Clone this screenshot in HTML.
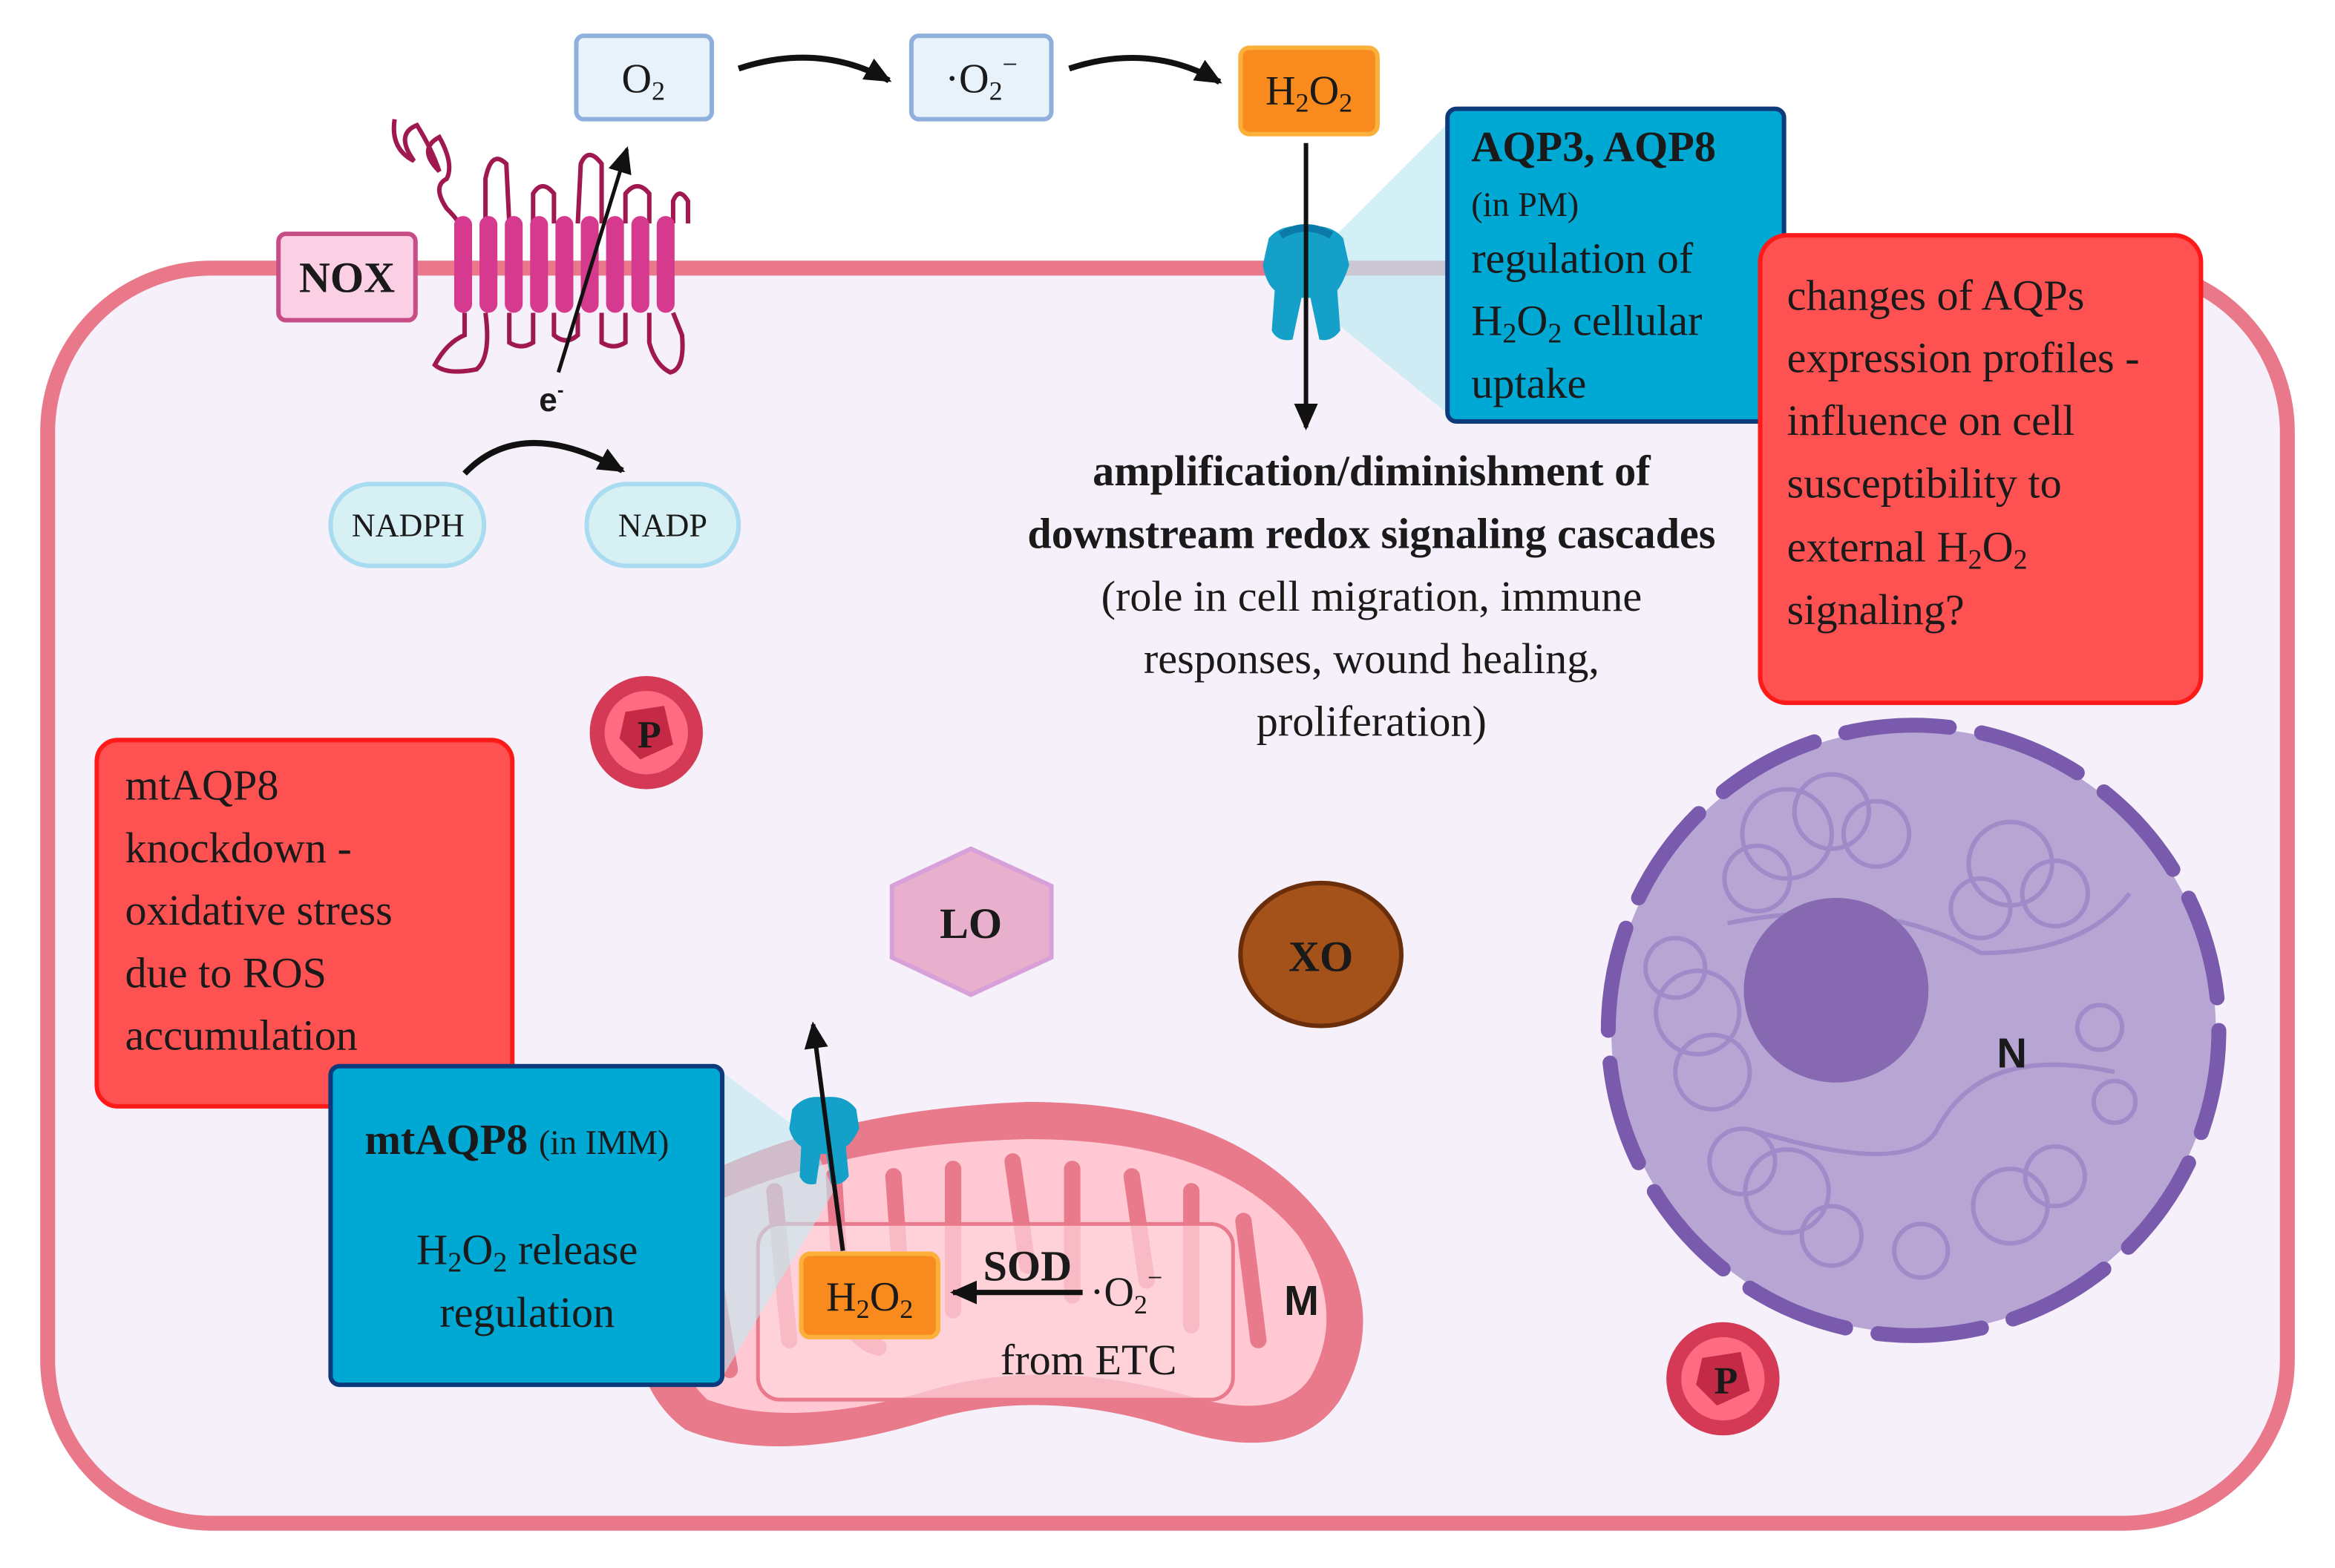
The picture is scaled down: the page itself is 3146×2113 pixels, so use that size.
<!DOCTYPE html>
<html><head><meta charset="utf-8"><style>
html,body{margin:0;padding:0;background:#fff}
svg{display:block}
text{font-family:"Liberation Serif",serif;fill:#1a1a1a}
.s{font-family:"Liberation Sans",sans-serif;font-weight:bold}
</style></head><body>
<svg width="3146" height="2113" viewBox="0 0 1568 1053" xmlns="http://www.w3.org/2000/svg">
<defs>
<marker id="ah" markerWidth="10" markerHeight="10" refX="8" refY="5" orient="auto" markerUnits="userSpaceOnUse" viewBox="0 0 10 10"><path d="M0,0 L10,5 L0,10 z" fill="#111"/></marker>
<marker id="ah2" markerWidth="18" markerHeight="18" refX="16" refY="9" orient="auto" markerUnits="userSpaceOnUse" viewBox="0 0 18 18"><path d="M0,1 L18,9 L0,17 z" fill="#111"/></marker>
</defs>
<rect width="1568" height="1053" fill="#fff"/>
<!-- cell -->
<rect x="32" y="180" width="1504" height="843" rx="110" fill="#f5f0f9" stroke="#e8788a" stroke-width="10"/>

<!-- top boxes -->
<rect x="387" y="24" width="91" height="56" rx="5" fill="#e8f2fb" stroke="#8fb0dc" stroke-width="3"/>
<text x="432" y="62" font-size="28" text-anchor="middle">O<tspan font-size="18" dy="5">2</tspan></text>
<rect x="612" y="24" width="94" height="56" rx="5" fill="#e8f2fb" stroke="#8fb0dc" stroke-width="3"/>
<text x="659" y="62" font-size="28" text-anchor="middle">·O<tspan font-size="18" dy="5">2</tspan><tspan font-size="18" dy="-18">−</tspan></text>
<rect x="833" y="32" width="92" height="58" rx="6" fill="#f98b1e" stroke="#fbb03b" stroke-width="3"/>
<text x="879" y="70" font-size="28" text-anchor="middle">H<tspan font-size="18" dy="5">2</tspan><tspan dy="-5">O</tspan><tspan font-size="18" dy="5">2</tspan></text>
<path d="M496,46 Q550,28 597,54" fill="none" stroke="#111" stroke-width="4" marker-end="url(#ah2)"/>
<path d="M718,46 Q772,28 819,55" fill="none" stroke="#111" stroke-width="4" marker-end="url(#ah2)"/>

<!-- AQP3 callout -->
<polygon points="895,160 975,80 975,280 895,215" fill="#bfeaf2" opacity="0.7"/>
<rect x="972" y="73" width="226" height="210" rx="6" fill="#00a8d4" stroke="#0d3a7a" stroke-width="3"/>
<text x="988" y="108" font-size="29" font-weight="bold">AQP3, AQP8</text>
<text x="988" y="145" font-size="23">(in PM)</text>
<text x="988" y="183" font-size="29">regulation of</text>
<text x="988" y="225" font-size="29">H<tspan font-size="19" dy="5">2</tspan><tspan dy="-5">O</tspan><tspan font-size="19" dy="5">2</tspan><tspan dy="-5"> cellular</tspan></text>
<text x="988" y="267" font-size="29">uptake</text>

<!-- channel PM -->
<path d="M852,160 Q860,150 877,152 Q894,150 902,160 L906,178 Q902,190 898,195 L900,222 Q894,230 886,228 L880,200 L874,200 L868,228 Q858,230 854,222 L856,195 Q850,190 848,178 Z" fill="#14a0c8"/>
<path d="M860,158 Q877,148 894,158" fill="none" stroke="#0b7aa8" stroke-width="5"/>
<line x1="877" y1="96" x2="877" y2="287" stroke="#111" stroke-width="3" marker-end="url(#ah2)"/>

<!-- right red box -->
<rect x="1182" y="158" width="296" height="314" rx="18" fill="#fe5252" stroke="#ff1a1a" stroke-width="3"/>
<text font-size="29" x="1200"><tspan x="1200" y="208">changes of AQPs</tspan><tspan x="1200" y="250">expression profiles -</tspan><tspan x="1200" y="292">influence on cell</tspan><tspan x="1200" y="334">susceptibility to</tspan><tspan x="1200" y="377">external H<tspan font-size="19" dy="5">2</tspan><tspan dy="-5">O</tspan><tspan font-size="19" dy="5">2</tspan></tspan><tspan x="1200" y="419">signaling?</tspan></text>

<!-- center text -->
<text x="921" y="326" font-size="29" font-weight="bold" text-anchor="middle">amplification/diminishment of</text>
<text x="921" y="368" font-size="29" font-weight="bold" text-anchor="middle">downstream redox signaling cascades</text>
<text x="921" y="410" font-size="29" text-anchor="middle">(role in cell migration, immune</text>
<text x="921" y="452" font-size="29" text-anchor="middle">responses, wound healing,</text>
<text x="921" y="494" font-size="29" text-anchor="middle">proliferation)</text>

<!-- NOX -->
<path d="M265,80 Q262,100 278,108 Q265,90 280,84 Q290,100 295,115 Q280,100 295,92 Q305,110 300,120 Q290,125 300,140 Q310,150 310,155" fill="none" stroke="#a01850" stroke-width="3"/>
<g fill="none" stroke="#a01850" stroke-width="3">
<path d="M312,210 L312,225 Q300,230 292,245 Q300,252 320,248 Q330,240 326,210"/>
<path d="M326,150 L326,120 Q330,100 340,110 L342,150"/>
<path d="M342,210 L342,230 Q350,235 358,230 L358,210"/>
<path d="M358,150 L358,130 Q364,120 372,130 L372,150"/>
<path d="M372,210 L372,225 Q380,232 388,225 L388,210"/>
<path d="M388,150 L390,110 Q395,98 404,110 L404,150"/>
<path d="M404,210 L404,230 Q412,235 420,230 L420,210"/>
<path d="M420,150 L420,130 Q428,120 436,130 L436,150"/>
<path d="M436,210 L436,230 Q440,245 450,250 Q460,248 458,225 L452,210"/>
<path d="M452,150 L452,135 Q456,125 462,135 L462,150"/>
</g>
<g fill="#d63a8f">
<rect x="305" y="145" width="12" height="65" rx="6"/><rect x="322" y="145" width="12" height="65" rx="6"/><rect x="339" y="145" width="12" height="65" rx="6"/><rect x="356" y="145" width="12" height="65" rx="6"/><rect x="373" y="145" width="12" height="65" rx="6"/><rect x="390" y="145" width="12" height="65" rx="6"/><rect x="407" y="145" width="12" height="65" rx="6"/><rect x="424" y="145" width="12" height="65" rx="6"/><rect x="441" y="145" width="12" height="65" rx="6"/>
</g>
<rect x="187" y="157" width="92" height="58" rx="5" fill="#fcd0e4" stroke="#c64d86" stroke-width="3"/>
<text x="233" y="196" font-size="29" font-weight="bold" text-anchor="middle">NOX</text>
<line x1="375" y1="250" x2="421" y2="100" stroke="#111" stroke-width="2.5" marker-end="url(#ah2)"/>
<text x="362" y="276" font-size="22" class="s">e<tspan font-size="13" dy="-10">-</tspan></text>

<!-- NADPH -->
<path d="M312,318 Q350,278 418,316" fill="none" stroke="#111" stroke-width="4" marker-end="url(#ah2)"/>
<rect x="222" y="325" width="103" height="55" rx="27" fill="#d6f0f3" stroke="#a9dcf0" stroke-width="3"/>
<text x="274" y="360" font-size="22" text-anchor="middle">NADPH</text>
<rect x="394" y="325" width="102" height="55" rx="27" fill="#d6f0f3" stroke="#a9dcf0" stroke-width="3"/>
<text x="445" y="360" font-size="22" text-anchor="middle">NADP</text>

<!-- P circles -->
<g>
<circle cx="434" cy="492" r="38" fill="#d43a55"/><circle cx="434" cy="492" r="28" fill="#ff6b80"/>
<polygon points="420,478 446,474 452,500 430,510 416,496" fill="#c42a45"/>
<text x="436" y="502" font-size="26" font-weight="bold" text-anchor="middle">P</text>
<circle cx="1157" cy="926" r="38" fill="#d43a55"/><circle cx="1157" cy="926" r="28" fill="#ff6b80"/>
<polygon points="1143,912 1169,908 1175,934 1153,944 1139,930" fill="#c42a45"/>
<text x="1159" y="936" font-size="26" font-weight="bold" text-anchor="middle">P</text>
</g>

<!-- LO, XO -->
<polygon points="652,570 706,595 706,643 652,668 599,643 599,595" fill="#e8b0cc" stroke="#d8a0d8" stroke-width="3"/>
<text x="652" y="630" font-size="29" font-weight="bold" text-anchor="middle">LO</text>
<ellipse cx="887" cy="641" rx="54" ry="48" fill="#a5521a" stroke="#6a2e0a" stroke-width="3"/>
<text x="887" y="652" font-size="29" font-weight="bold" text-anchor="middle">XO</text>

<!-- nucleus -->
<circle cx="1285" cy="692" r="203" fill="#b7a5d4"/>
<g fill="none" stroke="#a088c8" stroke-width="3" opacity="0.9">
<circle cx="1200" cy="560" r="30"/><circle cx="1230" cy="545" r="25"/><circle cx="1260" cy="560" r="22"/><circle cx="1180" cy="590" r="22"/>
<circle cx="1140" cy="680" r="28"/><circle cx="1150" cy="720" r="25"/><circle cx="1125" cy="650" r="20"/>
<circle cx="1200" cy="800" r="28"/><circle cx="1170" cy="780" r="22"/><circle cx="1230" cy="830" r="20"/>
<circle cx="1350" cy="580" r="28"/><circle cx="1380" cy="600" r="22"/><circle cx="1330" cy="610" r="20"/>
<circle cx="1350" cy="810" r="25"/><circle cx="1380" cy="790" r="20"/><circle cx="1290" cy="840" r="18"/>
<circle cx="1410" cy="690" r="15"/><circle cx="1420" cy="740" r="14"/>
<path d="M1160,620 Q1260,600 1330,640 Q1400,640 1430,600 M1180,760 Q1280,790 1300,760 Q1330,700 1420,720"/>
</g>
<circle cx="1233" cy="665" r="62" fill="#8669b0"/>
<circle cx="1285" cy="692" r="205" fill="none" stroke="#7a5aac" stroke-width="10" stroke-dasharray="70,22" stroke-linecap="round"/>
<text x="1351" y="717" font-size="28" class="s" text-anchor="middle">N</text>

<!-- left red box -->
<rect x="65" y="497" width="279" height="246" rx="14" fill="#fe5252" stroke="#ff1a1a" stroke-width="3"/>
<text font-size="29"><tspan x="84" y="537">mtAQP8</tspan><tspan x="84" y="579">knockdown -</tspan><tspan x="84" y="621">oxidative stress</tspan><tspan x="84" y="663">due to ROS</tspan><tspan x="84" y="705">accumulation</tspan></text>

<!-- mitochondrion -->
<path d="M470,790 Q560,745 690,740 Q830,740 890,820 Q935,880 900,940 Q870,985 790,960 Q700,930 620,955 Q520,985 460,960 Q420,930 430,870 Q440,820 470,790 Z" fill="#e87a8c"/>
<path d="M485,805 Q570,768 690,765 Q820,765 872,830 Q905,880 880,925 Q860,955 800,938 Q700,910 620,935 Q530,960 475,940 Q448,915 455,870 Q462,825 485,805 Z" fill="#ffc8d2"/>
<g fill="none" stroke="#e87a8c" stroke-width="11" stroke-linecap="round">
<path d="M520,800 L530,900"/><path d="M560,790 L565,870 Q570,900 590,905"/><path d="M600,790 L605,860"/><path d="M640,785 L640,880"/><path d="M680,780 L690,850"/><path d="M720,785 L720,870"/><path d="M760,790 L770,860"/><path d="M800,800 L800,890"/><path d="M835,820 L845,900"/><path d="M475,830 L490,920"/>
</g>
<rect x="509" y="822" width="319" height="118" rx="15" fill="#ffd5dc" fill-opacity="0.7" stroke="#e87a8c" stroke-width="2.5"/>
<text x="874" y="883" font-size="28" class="s" text-anchor="middle">M</text>
<rect x="538" y="842" width="92" height="56" rx="6" fill="#f98b1e" stroke="#fbb03b" stroke-width="3"/>
<text x="584" y="880" font-size="28" text-anchor="middle">H<tspan font-size="18" dy="5">2</tspan><tspan dy="-5">O</tspan><tspan font-size="18" dy="5">2</tspan></text>
<line x1="727" y1="868" x2="640" y2="868" stroke="#111" stroke-width="3.5" marker-end="url(#ah2)"/>
<text x="690" y="860" font-size="29" font-weight="bold" text-anchor="middle">SOD</text>
<text x="732" y="877" font-size="28">·O<tspan font-size="18" dy="5">2</tspan><tspan font-size="18" dy="-18">−</tspan></text>
<text x="731" y="923" font-size="29" text-anchor="middle">from ETC</text>

<!-- blue box mt -->
<polygon points="485,720 545,765 560,800 485,925" fill="#bfeaf2" opacity="0.6"/>
<rect x="222" y="716" width="263" height="214" rx="6" fill="#00a8d4" stroke="#0d3a7a" stroke-width="3"/>
<text x="245" y="775" font-size="29" font-weight="bold">mtAQP8 <tspan font-weight="normal" font-size="23">(in IMM)</tspan></text>
<text x="354" y="849" font-size="29" text-anchor="middle">H<tspan font-size="19" dy="5">2</tspan><tspan dy="-5">O</tspan><tspan font-size="19" dy="5">2</tspan><tspan dy="-5"> release</tspan></text>
<text x="354" y="891" font-size="29" text-anchor="middle">regulation</text>

<!-- mito channel -->
<path d="M532,745 Q540,735 553,737 Q568,735 575,745 L577,758 Q572,768 568,770 L570,790 Q565,797 558,795 L555,775 L551,775 L548,795 Q540,797 537,790 L538,770 Q532,766 530,758 Z" fill="#14a0c8"/>
<line x1="566" y1="840" x2="546" y2="688" stroke="#111" stroke-width="3" marker-end="url(#ah2)"/>
</svg>
</body></html>
